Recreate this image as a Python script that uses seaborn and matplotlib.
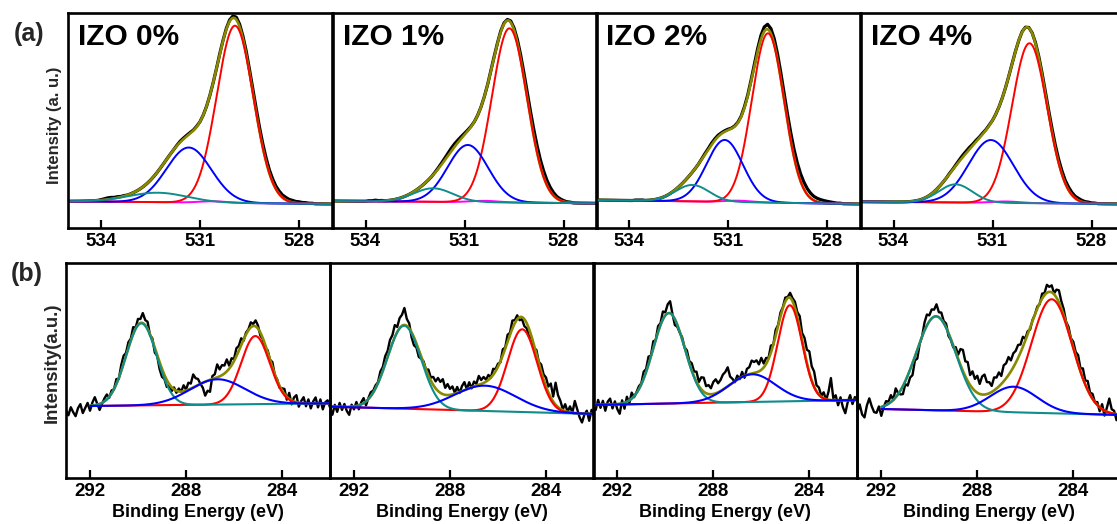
import numpy as np
import matplotlib
matplotlib.use("Agg")
import matplotlib.pyplot as plt
import seaborn as sns

# ---------------- O 1s spectra (row a) ----------------
o1s_titles = ["IZO 0%", "IZO 1%", "IZO 2%", "IZO 4%"]
o1s_ticks = [534, 531, 528]
o1s_range = (535.0, 527.0)
o1s_bg_left = [26.4, 26.7, 27.7, 26.0]      # background at 535 eV
o1s_bg_right = [23.7, 24.4, 23.7, 23.7]     # background at 527 eV

# fitted components: centre (eV), height (a.u.), FWHM (eV)
o1s_red_center = [529.94, 529.64, 529.79, 529.88]
o1s_red_height = [177.3, 174.2, 169.3, 159.9]
o1s_red_fwhm = [1.30, 1.25, 1.15, 1.25]
o1s_blue_center = [531.34, 530.90, 531.10, 531.05]
o1s_blue_height = [55.0, 57.2, 62.0, 62.8]
o1s_blue_fwhm = [1.60, 1.45, 1.30, 1.60]
o1s_teal_center = [532.28, 531.95, 532.08, 532.12]
o1s_teal_height = [9.5, 13.6, 16.5, 18.2]
o1s_teal_fwhm = [2.10, 1.40, 1.20, 1.20]
o1s_pink_center = [530.6, 530.4, 530.7, 530.6]
o1s_pink_height = [1.5, 1.5, 1.5, 1.5]
o1s_pink_fwhm = [1.0, 1.0, 1.0, 1.0]

# measured minus fit, 0.1 eV steps from 535.0 down to 527.0 eV
o1s_resid = [
    [0, 0, 0, 0, 0, 0, 0, 0, 0, 0,
     0.5, 1, 1.5, 1.5, 1, 1, 0.5, 0.5, 0, 0,
     0, 0, 0, 0, 0, 0, 0, 0, 0, 0,
     0, 0, 0, 0.5, 1, 1, 1, 1, 0.5, 0.5,
     0, 0, 0, 0, 0, 0, 0.5, 0.5, 1, 1.5,
     2, 2.5, 2.5, 2.5, 3, 3, 3.5, 4, 4, 4,
     4, 3.5, 3.5, 3, 3, 2.5, 2.5, 2, 2, 1.5,
     1.5, 1, 1, 0.5, 0.5, 0, 0, 0, 0, 0,
     0],
    [0, 0, 0, 0, 0, 0, 0, 0, 0, 0,
     0, 0.5, 0.5, 1, 0.5, 0.5, 0, 0, 0, 0,
     0, 0, 0, 0, 0, 0, 0, 0, 0, 0,
     0, 0.5, 1, 1.5, 2, 2.5, 3, 3, 2.5, 2,
     1.5, 1, 0.5, 0, 0, 0, 0, 0, 0.5, 0.5,
     0.5, 1, 1, 1, 1.5, 2, 3, 4, 5, 6,
     6.5, 7, 7, 6.5, 6, 5, 4, 3, 2, 1.5,
     1, 0.5, 0.5, 0, 0, 0, 0, 0, 0, 0,
     0],
    [0, 0, 0, 0, 0, 0, 0, 0, 0, 0,
     0, 0, 0.5, 0.5, 0.5, 0, 0, 0, 0, 0,
     0, 0, 0, 0, 0, 0, 0, 0, 0, 0,
     0, 0, 0.5, 1, 1, 1.5, 1.5, 1.5, 1, 1,
     1, 0.5, 0.5, 0.5, 0.5, 1, 1, 1.5, 2, 3,
     4, 4.5, 5, 5, 5.5, 6, 6.5, 7, 7.5, 8,
     8, 8, 7.5, 7, 6, 5, 4, 3.5, 3, 2.5,
     2, 1.5, 1, 0.5, 0.5, 0, 0, 0, 0, 0,
     0],
    [0, 0, 0, 0, 0, 0, 0, 0, 0, 0,
     0, 0, 0, 0, 0, 0, 0, 0, 0, 0,
     0, 0, 0, 0, 0, 0, 0, 0.5, 0.5, 1,
     1.5, 2, 2, 2, 1.5, 1.5, 1, 1, 0.5, 0.5,
     0, 0, 0, 0, 0, 0, 0, 0, 0, 0.5,
     0.5, 0.5, 0.5, 1, 1.5, 2, 2.5, 3, 3.5, 3.5,
     3.5, 3.5, 3, 3, 2.5, 2, 2, 1.5, 1, 1,
     0.5, 0.5, 0, 0, 0, 0, 0, 0, 0, 0,
     0],
]

# ---------------- C 1s spectra (row b) ----------------
c1s_ticks = [292, 288, 284]
c1s_range = (293.0, 282.0)
c1s_fit_start = [292.0, 293.0, 293.0, 292.0]
c1s_bg_left = [71.4, 71.0, 72.7, 69.3]      # background at 293 eV
c1s_bg_right = [74.4, 63.7, 77.7, 62.7]     # background at 282 eV

c1s_teal_center = [289.86, 289.91, 289.85, 289.72]
c1s_teal_height = [82.1, 83.0, 90.5, 94.0]
c1s_teal_fwhm = [1.50, 1.65, 1.55, 1.95]
c1s_blue_center = [286.69, 286.54, 286.38, 286.48]
c1s_blue_height = [25.3, 25.3, 27.7, 25.6]
c1s_blue_fwhm = [2.70, 3.00, 2.30, 2.30]
c1s_red_center = [285.11, 284.99, 284.81, 284.90]
c1s_red_height = [68.1, 82.7, 96.0, 114.0]
c1s_red_fwhm = [1.40, 1.45, 1.20, 2.00]

# measured minus fit, 0.1 eV steps from 293.0 down to 282.0 eV
c1s_resid = [
    [-4, -9, -1, -6, -10, -2, 2, -7, -2, 3,
     -5, 3, 8, 1, -6, -1, 3, 5, -1, 3,
     0, 5, -1, 6, 8, 3, 6, 2, 7, 1,
     6, 4, 10, 5, 7, -1, 2, -5, -1, -7,
     -8, -4, -7, -1, -4, 2, -2, 3, 0, 6,
     1, 7, 5, 13, 8, 6, 0, -5, -14, -10,
     -12, 3, 4, 13, 7, 10, 8, 12, 3, 7,
     2, 8, 5, 7, -1, 2, 1, 5, 2, 6,
     3, -3, -1, -4, 2, 0, 5, -1, 1, -2,
     2, 5, -3, 6, -4, 4, 7, -4, 2, 6,
     -3, 4, -5, 2, 6, -4, 4, -6, 1, 3,
     -4],
    [-1, -8, 2, -5, 4, -3, 3, -4, -8, 2,
     -3, 4, -4, 2, 5, -4, 1, 4, 2, 3,
     1, 6, 4, 8, 6, 10, 8, 12, 5, 10,
     11, 17, 7, 5, -5, -8, -4, -7, -2, 2,
     0, 6, 3, 8, 7, 13, 11, 15, 7, 11,
     6, 8, 1, 6, -1, 5, 8, 0, 6, -1,
     5, 2, 9, 4, 6, 2, 5, 0, 6, 2,
     3, -1, 6, 1, 7, 2, 8, 3, 4, -3,
     -2, -7, -5, -8, -1, -3, 4, 1, 7, 5,
     9, 6, 14, 5, 22, 12, 8, 1, 7, 0,
     6, 0, 12, 4, -4, -9, -1, 3, -7, 4,
     -2],
    [4, -5, 5, -3, 4, -6, 3, 6, -4, 3,
     -5, -10, 3, -6, 5, -3, 6, -1, 1, 3,
     1, 7, 3, 8, 1, 7, 0, 6, 2, 8,
     3, 9, 12, 1, -6, -2, -1, 2, 0, 5,
     2, 7, 5, 10, 4, 12, 14, 7, 9, 6,
     12, 14, 9, 11, 15, 16, 19, 8, 4, -1,
     4, -1, 5, -2, 6, 7, 13, 11, 12, 7,
     12, 4, 6, 1, 7, 0, 6, 1, 4, 1,
     4, 1, 5, 3, 6, 5, 12, 7, 14, 13,
     21, 14, 15, 6, 7, 1, 6, -1, 8, 22,
     2, 5, -5, 3, -7, -13, -2, 5, -4, 3,
     -1],
    [-4, 4, -6, -9, 3, 10, 2, -4, -5, 1,
     -9, -1, 4, 2, 7, 0, 9, 1, -4, -8,
     -3, -10, -8, -12, -4, -9, -1, 0, 8, 11,
     6, 9, 7, 12, 5, 7, 2, 4, -3, -1,
     -2, 5, 4, 16, 21, 15, 19, 10, 17, 12,
     17, 10, 18, 20, 12, 11, 6, 13, 11, 14,
     8, 16, 15, 18, 11, 14, 12, 13, 8, 10,
     2, 3, -2, 1, 0, 2, -1, 5, 2, 8,
     5, 7, 1, 8, 12, 7, 6, 1, 4, 1,
     6, 4, 9, 3, 10, 4, 9, 2, 5, 0,
     3, -4, 5, -5, 4, 14, 4, 3, -6, 4,
     -3],
]

# ---------------- styling ----------------
sns.set_theme(style="white")
plt.rcParams["font.family"] = ["Liberation Sans", "DejaVu Sans"]
plt.rcParams["font.weight"] = "bold"

RED, BLUE, TEAL, OLIVE, PINK = "#FF0000", "#0000FF", "#0F8C8C", "#8A8A00", "#FF00FF"
W, H = 1117, 524


def gauss(e, c, h, w):
    return h * np.exp(-4.0 * np.log(2.0) * (e - c) ** 2 / w ** 2)


def linear_bg(e, erange, left, right):
    return left + (right - left) * (erange[0] - e) / (erange[0] - erange[1])


def line(ax, x, y, color, lw):
    sns.lineplot(x=x, y=y, ax=ax, color=color, linewidth=lw, sort=False,
                 estimator=None, legend=False)


def make_axes(fig, left_px, top_px):
    ax = fig.add_axes([left_px / W, 1 - (top_px + 215) / H, 264 / W, 215 / H])
    ax.set_facecolor("none")
    for s in ax.spines.values():
        s.set_visible(True)
        s.set_color("black")
        s.set_linewidth(1.9)
    ax.set_yticks([])
    ax.set_ylim(0, 215)
    ax.tick_params(axis="x", direction="in", length=6, width=1.6, colors="black",
                   labelsize=13.5, pad=3.5, bottom=True)
    return ax


fig = plt.figure(figsize=(W / 100, H / 100), dpi=100)
fig.patch.set_facecolor("white")

top_lefts = [68, 332.5, 596, 860.5]
bot_lefts = [66, 330, 593.3, 857.3]

for i in range(4):
    # ---- O 1s ----
    ax = make_axes(fig, top_lefts[i], 12.7)
    e = np.linspace(o1s_range[0], o1s_range[1], 801)
    bg = linear_bg(e, o1s_range, o1s_bg_left[i], o1s_bg_right[i])
    red = gauss(e, o1s_red_center[i], o1s_red_height[i], o1s_red_fwhm[i])
    blue = gauss(e, o1s_blue_center[i], o1s_blue_height[i], o1s_blue_fwhm[i])
    teal = gauss(e, o1s_teal_center[i], o1s_teal_height[i], o1s_teal_fwhm[i])
    pink = gauss(e, o1s_pink_center[i], o1s_pink_height[i], o1s_pink_fwhm[i])
    env = bg + red + blue + teal + pink

    em = np.linspace(o1s_range[0], o1s_range[1], len(o1s_resid[i]))
    bgm = linear_bg(em, o1s_range, o1s_bg_left[i], o1s_bg_right[i])
    meas = (bgm
            + gauss(em, o1s_red_center[i], o1s_red_height[i], o1s_red_fwhm[i])
            + gauss(em, o1s_blue_center[i], o1s_blue_height[i], o1s_blue_fwhm[i])
            + gauss(em, o1s_teal_center[i], o1s_teal_height[i], o1s_teal_fwhm[i])
            + gauss(em, o1s_pink_center[i], o1s_pink_height[i], o1s_pink_fwhm[i])
            + np.array(o1s_resid[i]))

    line(ax, em, meas, "black", 2.3)
    line(ax, e, env, OLIVE, 1.9)
    line(ax, e, bg + pink, PINK, 1.4)
    line(ax, e, bg + red, RED, 1.4)
    line(ax, e, bg + blue, BLUE, 1.4)
    line(ax, e, bg + teal, TEAL, 1.4)

    ax.set_xlim(*o1s_range)
    ax.set_xticks(o1s_ticks)
    ax.set_xlabel("")
    ax.text(0.038, 0.887, o1s_titles[i], transform=ax.transAxes, fontsize=21.5,
            fontweight="bold", ha="left", va="center", color="black")

    # ---- C 1s ----
    ax = make_axes(fig, bot_lefts[i], 262.7)
    e = np.linspace(c1s_fit_start[i], c1s_range[1], 801)
    bg = linear_bg(e, c1s_range, c1s_bg_left[i], c1s_bg_right[i])
    teal = gauss(e, c1s_teal_center[i], c1s_teal_height[i], c1s_teal_fwhm[i])
    blue = gauss(e, c1s_blue_center[i], c1s_blue_height[i], c1s_blue_fwhm[i])
    red = gauss(e, c1s_red_center[i], c1s_red_height[i], c1s_red_fwhm[i])
    env = bg + teal + blue + red

    em = np.linspace(c1s_range[0], c1s_range[1], len(c1s_resid[i]))
    bgm = linear_bg(em, c1s_range, c1s_bg_left[i], c1s_bg_right[i])
    meas = (bgm
            + gauss(em, c1s_teal_center[i], c1s_teal_height[i], c1s_teal_fwhm[i])
            + gauss(em, c1s_blue_center[i], c1s_blue_height[i], c1s_blue_fwhm[i])
            + gauss(em, c1s_red_center[i], c1s_red_height[i], c1s_red_fwhm[i])
            + np.array(c1s_resid[i]))

    line(ax, em, meas, "black", 1.7)
    line(ax, e, env, OLIVE, 1.9)
    line(ax, e, bg + red, RED, 1.5)
    line(ax, e, bg + teal, TEAL, 1.5)
    line(ax, e, bg + blue, BLUE, 1.5)

    ax.set_xlim(*c1s_range)
    ax.set_xticks(c1s_ticks)
    ax.set_xlabel("Binding Energy (eV)", fontsize=13, fontweight="bold",
                  labelpad=3, color="black")

fig.text(55 / W, 1 - 125 / H, "Intensity (a. u.)", rotation=90, fontsize=12,
         fontweight="bold", ha="center", va="center")
fig.text(52.5 / W, 1 - 363 / H, "Intensity(a.u.)", rotation=90, fontsize=13.4,
         fontweight="bold", ha="center", va="center")
fig.text(29 / W, 1 - 34 / H, "(a)", fontsize=18, fontweight="bold",
         ha="center", va="center")
fig.text(27 / W, 1 - 274 / H, "(b)", fontsize=18, fontweight="bold",
         ha="center", va="center")

fig.savefig("out.png", dpi=100, facecolor="white")
